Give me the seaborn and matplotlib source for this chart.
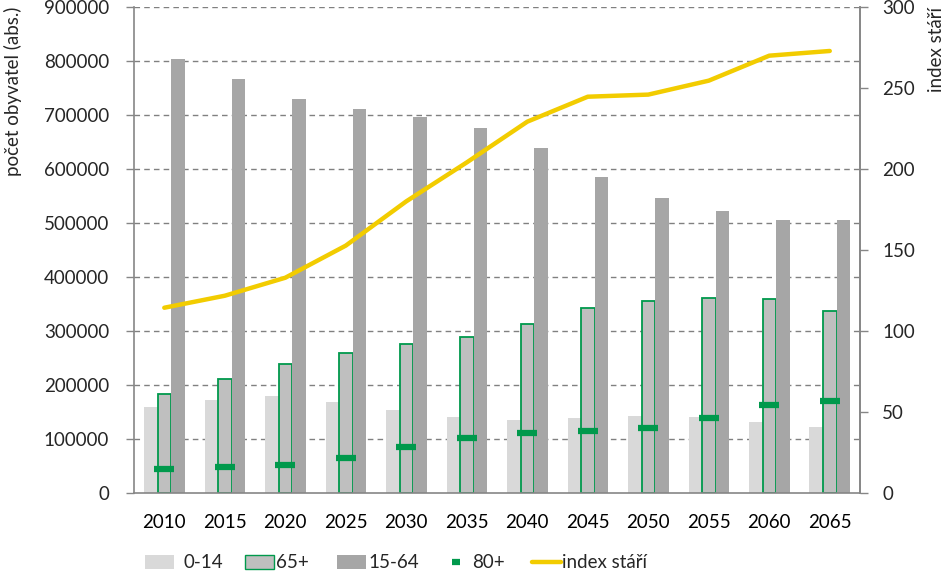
import numpy as np
import pandas as pd
import matplotlib
matplotlib.use("Agg")
import matplotlib.pyplot as plt
import seaborn as sns
from matplotlib.patches import Patch
from matplotlib.lines import Line2D

years = ["2010", "2015", "2020", "2025", "2030", "2035", "2040", "2045", "2050", "2055", "2060", "2065"]
age_0_14 = [159600, 172600, 180000, 168800, 154000, 141100, 135500, 139200, 143000, 141100, 131900, 122600]
age_65p = [183100, 210800, 239500, 259500, 276000, 288500, 313000, 342100, 355100, 360600, 358800, 336600]
age_15_64 = [803200, 766200, 729200, 710700, 695900, 676500, 638600, 585000, 546100, 522100, 505500, 505500]
age_80p = [44900, 48600, 52300, 65300, 85600, 102000, 111300, 115000, 120800, 139800, 163300, 171300]
index_stari = [114.4, 121.8, 132.9, 152.7, 180.0, 204.0, 229.1, 244.5, 245.8, 254.4, 269.8, 272.7]

series_names = ["0-14", "65+", "15-64"]
c_light = "#D9D9D9"
c_mid = "#BFBFBF"
c_dark = "#A6A6A6"
c_green = "#00994C"
c_yellow = "#F2CC00"
c_axis = "#868686"
FS = 13.5

sns.set_theme(style="white")
plt.rcParams['font.family'] = ['Lato', 'DejaVu Sans']

df = pd.DataFrame({
    "year": years * 3,
    "value": age_0_14 + age_65p + age_15_64,
    "group": ["0-14"] * 12 + ["65+"] * 12 + ["15-64"] * 12,
})

fig = plt.figure(figsize=(9.46, 5.72), dpi=100)
ax = fig.add_axes([0.1417, 0.1376, 0.7674, 0.8507])

sns.barplot(data=df, x="year", y="value", hue="group", hue_order=series_names,
            order=years, palette=[c_light, c_mid, c_dark], width=0.67,
            ax=ax, legend=False, saturation=1, linewidth=0)

# green outline on 65+ bars
for patch in ax.containers[1]:
    patch.set_edgecolor(c_green)
    patch.set_linewidth(1.3)

xpos = np.arange(len(years))
ax.plot(xpos, age_80p, linestyle="none", marker="_", markersize=14,
        markeredgewidth=4.5, color=c_green, zorder=5)

ax.set_xlim(-0.5, len(years) - 0.5)
ax.set_ylim(0, 900000)
ax.set_yticks(np.arange(0, 900001, 100000))
ax.set_yticklabels([str(v) for v in range(0, 900001, 100000)])
for v in range(100000, 900001, 100000):
    ax.axhline(v, color="#808080", linestyle=(0, (4, 3)), linewidth=1.0, zorder=0)
ax.set_axisbelow(True)
ax.set_xlabel("")
ax.set_ylabel("počet obyvatel (abs.)", fontsize=FS, loc="top")
ax.yaxis.set_label_coords(-0.155, 1.0)

ax.set_xticks(xpos)
ax.set_xticklabels(years)
ax.set_xticks(np.arange(-0.5, len(years), 1), minor=True)
ax.tick_params(axis="x", which="major", length=0, pad=15, labelsize=FS, colors="black")
ax.tick_params(axis="x", which="minor", length=6, width=1, color=c_axis, direction="out")
ax.tick_params(axis="y", length=6, width=1, color=c_axis, direction="out", labelsize=FS, pad=12)

for s in ["left", "bottom", "right"]:
    ax.spines[s].set_visible(True)
    ax.spines[s].set_color(c_axis)
    ax.spines[s].set_linewidth(1.2)
ax.spines["top"].set_visible(False)

ax2 = ax.twinx()
sns.lineplot(x=xpos, y=index_stari, ax=ax2, color=c_yellow, linewidth=3.2, zorder=6)
ax2.set_ylim(0, 300)
ax2.set_yticks(np.arange(0, 301, 50))
ax2.set_ylabel("index stáří", fontsize=FS, loc="top")
ax2.yaxis.set_label_coords(1.093, 1.0)
ax2.tick_params(axis="y", length=6, width=1, color=c_axis, direction="out", labelsize=FS, pad=10)
for s in ["left", "bottom", "top"]:
    ax2.spines[s].set_visible(False)
ax2.spines["right"].set_color(c_axis)
ax2.spines["right"].set_linewidth(1.2)
ax2.grid(False)
ax.grid(False)

legend_items = [
    (Patch(facecolor=c_light, edgecolor="none"), "0-14", 145, 0.5),
    (Patch(facecolor=c_mid, edgecolor=c_green, linewidth=1.0), "65+", 245, 0.1),
    (Patch(facecolor=c_dark, edgecolor="none"), "15-64", 337, 0.1),
    (Line2D([0], [0], linestyle="none", marker="_", markersize=6, markeredgewidth=4.5, color=c_green),
     "80+", 441, 0.1),
    (Line2D([0], [0], color=c_yellow, linewidth=3.2), "index stáří", 532, 0.05),
]
ly = 1 - 563 / 572
for h, lab, xpx, pad in legend_items:
    leg = fig.legend([h], [lab], loc="center left", bbox_to_anchor=(xpx / 946, ly),
                     frameon=False, fontsize=FS, handlelength=1.55, handleheight=0.7,
                     handletextpad=pad, borderpad=0, borderaxespad=0)

fig.savefig("out.png", dpi=100)
